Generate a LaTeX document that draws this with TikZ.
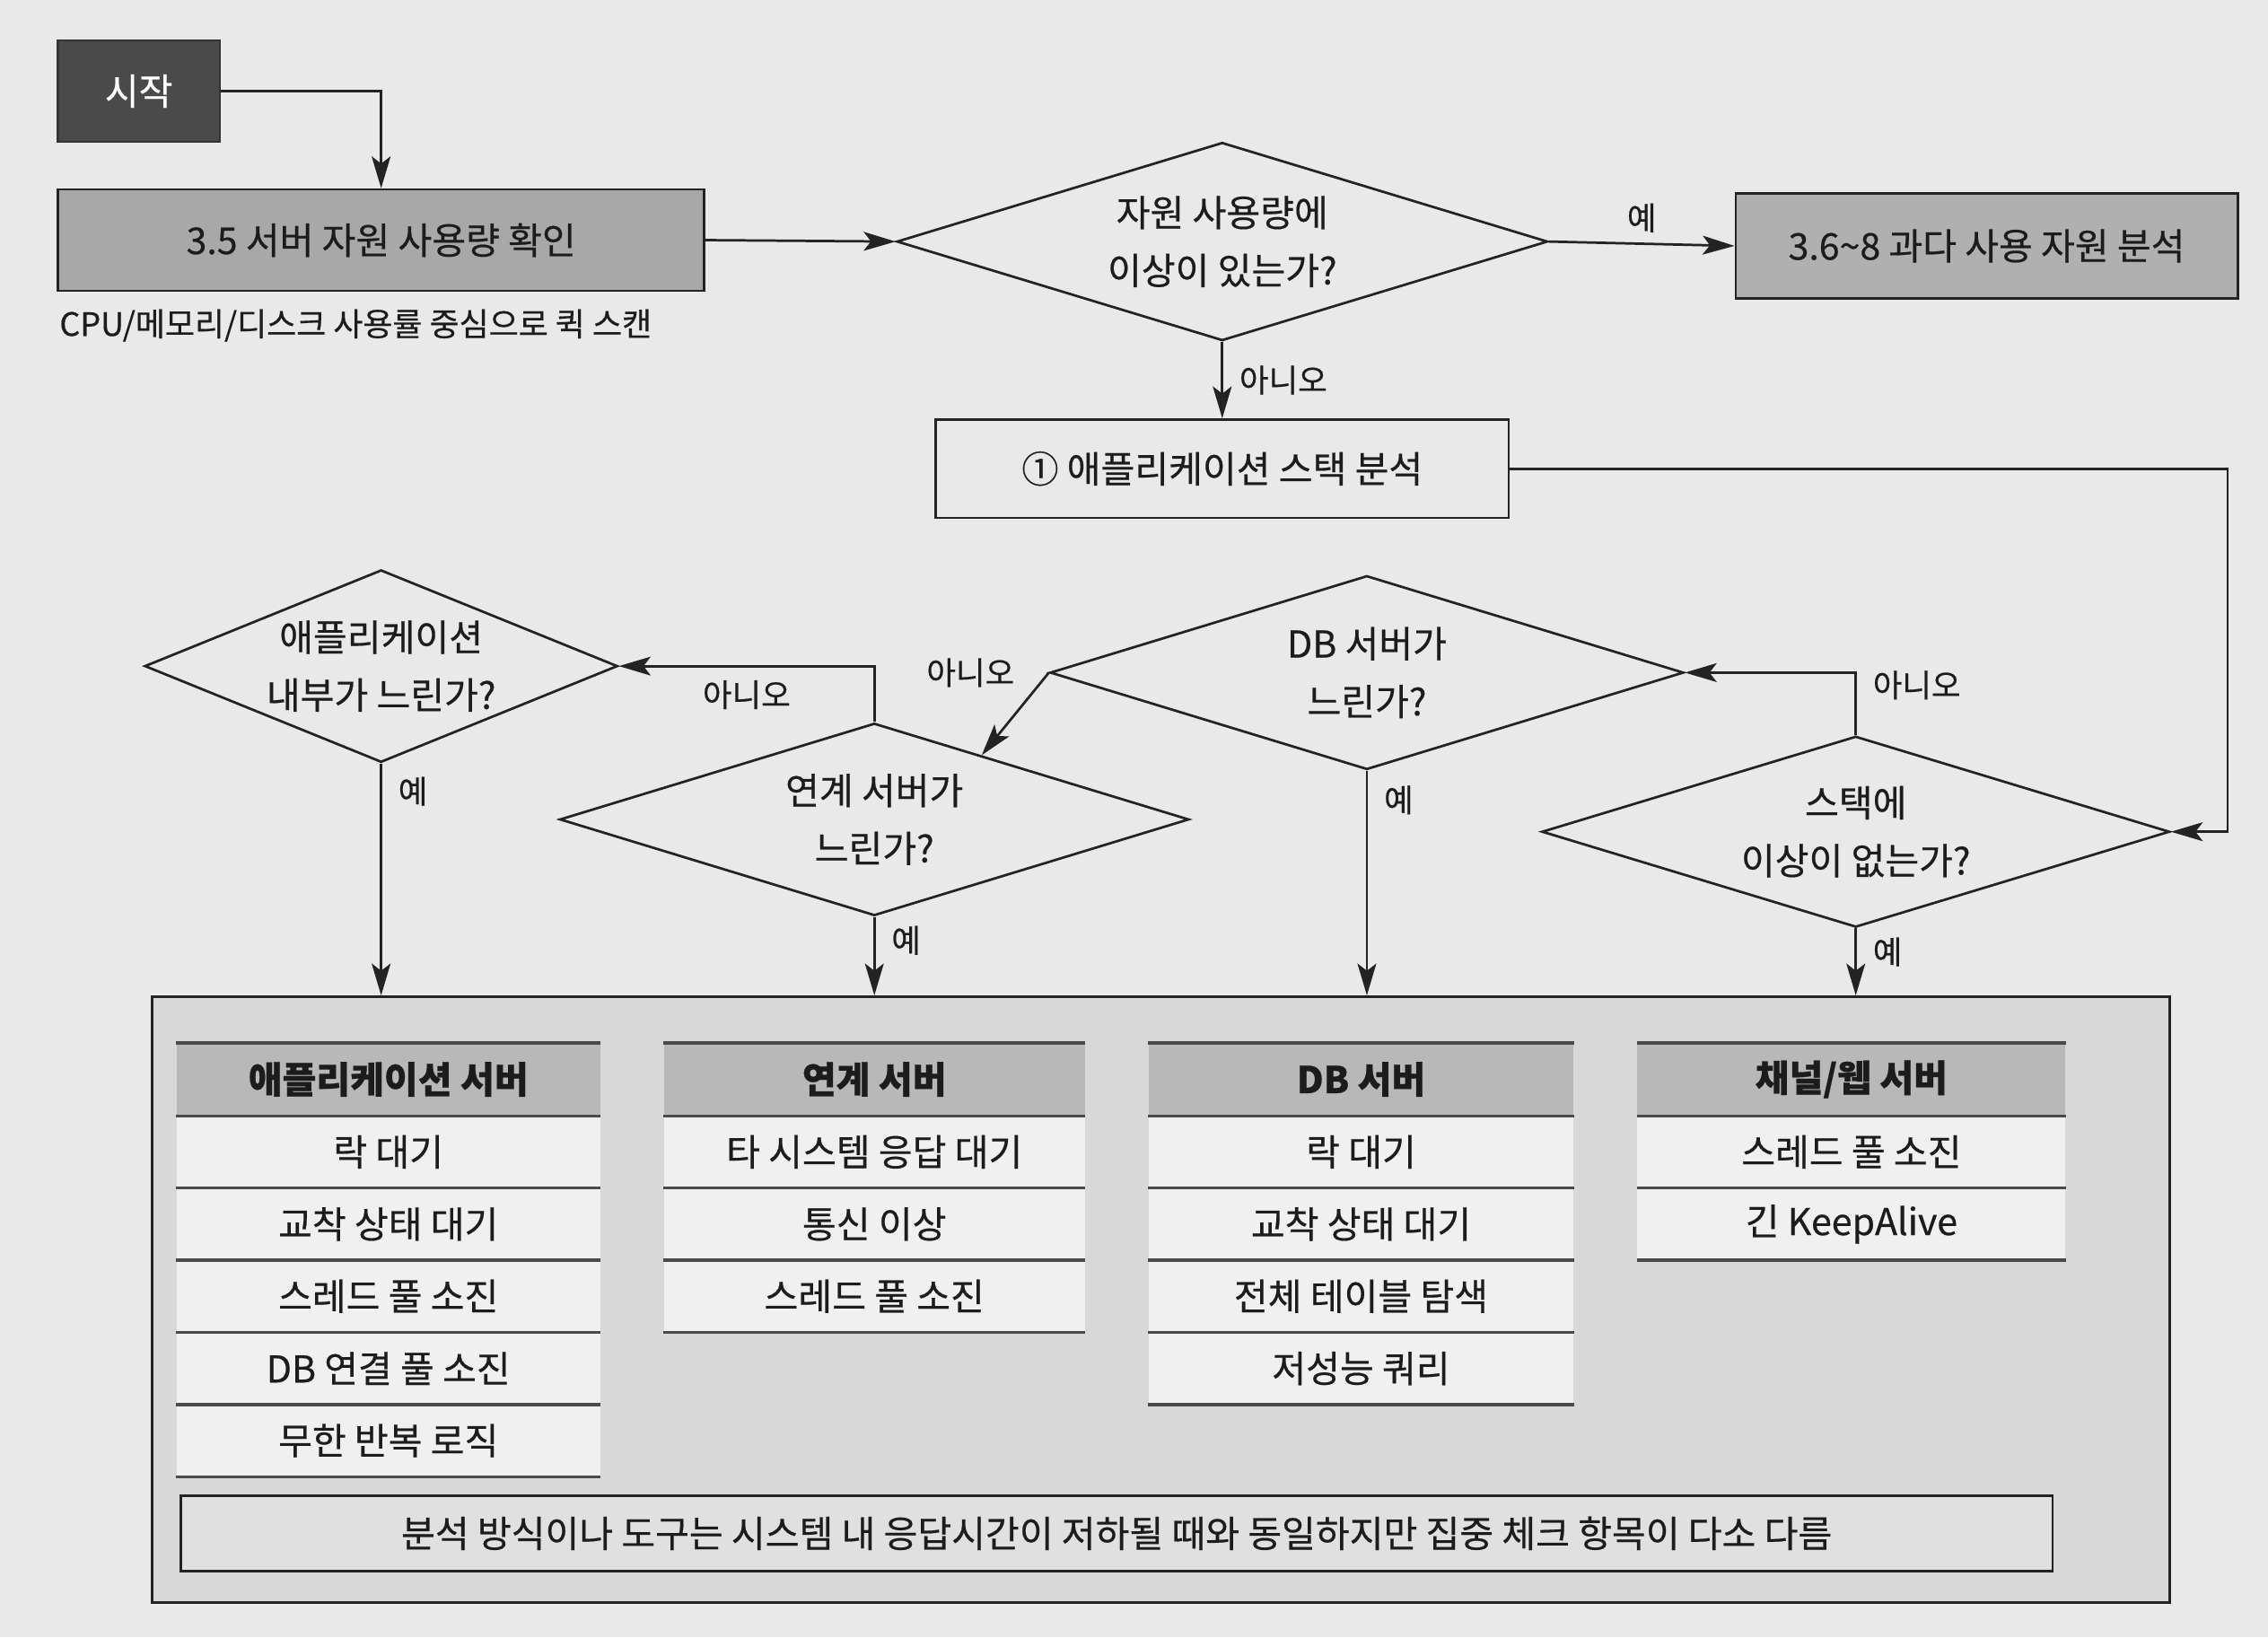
\documentclass[tikz,border=0pt]{standalone}
\usepackage{fontspec}
\setmainfont{Noto Sans CJK KR}[FakeBold=0.5]
\usetikzlibrary{shapes.geometric,arrows.meta,calc}
\definecolor{pagebg}{HTML}{E9E9E9}
\definecolor{boxfill}{HTML}{D8D8D8}
\definecolor{rowfill}{HTML}{F0F0F0}
\definecolor{hdrfill}{HTML}{B8B8B8}
\definecolor{procgray}{HTML}{A8A8A8}
\definecolor{resgray}{HTML}{B0B0B0}
\definecolor{notefill}{HTML}{E0E0E0}
\definecolor{startfill}{HTML}{4A4A4A}
\definecolor{linec}{HTML}{232323}
\definecolor{sepc}{HTML}{4A4A4A}
\definecolor{txt}{HTML}{1C1C1C}
\newcommand\fsmain{\fontsize{25.5pt}{30pt}\selectfont}
\newcommand\fsdia{\fontsize{25.5pt}{40pt}\selectfont}
\newcommand\fslbl{\fontsize{22pt}{26pt}\selectfont}
\newcommand\fscpu{\fontsize{22.3pt}{26pt}\selectfont}
\begin{document}
\begin{tikzpicture}[x=1pt,y=-1pt,
  every node/.style={text=txt},
  ln/.style={line width=1.7pt, draw=linec},
  arr/.style={ln, -{Stealth[length=22pt,width=13pt,inset=5pt]}},
  proc/.style={rectangle, draw=linec, line width=1.7pt, inner sep=0pt, font=\fsmain},
  dec/.style={diamond, draw=linec, line width=1.7pt, inner sep=0pt, align=center, font=\fsdia},
  lbl/.style={font=\fslbl, inner sep=3pt},
  cellbase/.style={rectangle, inner sep=0pt, anchor=north, font=\fsmain},
  hdr/.style={cellbase, fill=hdrfill, minimum height=50pt, font=\fsmain\bfseries},
  rowc/.style={cellbase, fill=rowfill, minimum height=49.5pt},
  sep/.style={line width=2pt, draw=sepc}
]
\useasboundingbox (0,0) rectangle (1568,1132);
\fill[pagebg] (0,0) rectangle (1568,1132);

% top part
\node[proc, fill=startfill, draw=startfill!70!black, minimum width=112pt, minimum height=70pt, text=white] (start) at (96,63) {시작};
\node[proc, fill=procgray, minimum width=447pt, minimum height=70pt] (check) at (263.5,166) {3.5 서버 자원 사용량 확인};
\node[font=\fscpu, anchor=west, inner sep=0pt] (cpu) at (41,225) {CPU/메모리/디스크 사용률 중심으로 퀵 스캔};
\node[dec, aspect=3.28, minimum width=450pt, minimum height=137pt] (d1) at (845,167) {자원 사용량에\\이상이 있는가?};
\node[proc, fill=resgray, minimum width=347pt, minimum height=73pt] (res) at (1373.5,170) {3.6\textasciitilde 8 과다 사용 자원 분석};
\node[proc, fill=pagebg, minimum width=396pt, minimum height=68pt] (stack) at (845,324) {① 애플리케이션 스택 분석};

% decisions
\node[dec, aspect=3.29, minimum width=434pt, minimum height=132pt] (dstack) at (1283,575) {스택에\\이상이 없는가?};
\node[dec, aspect=3.27, minimum width=438pt, minimum height=134pt] (ddb) at (945,465) {DB 서버가\\느린가?};
\node[dec, aspect=3.27, minimum width=435pt, minimum height=133pt] (dlink) at (604.5,566.5) {연계 서버가\\느린가?};
\node[dec, aspect=2.46, minimum width=327pt, minimum height=133pt] (dapp) at (263.5,460.5) {애플리케이션\\내부가 느린가?};

% big box
\node[rectangle, draw=linec, line width=1.7pt, fill=boxfill, minimum width=1395pt, minimum height=419pt, inner sep=0pt] (main) at (802.5,898.5) {};

% tables
\node[hdr, minimum width=293pt] (a0) at (268.5,721) {애플리케이션 서버};
\node[rowc, minimum width=293pt] (a1) at (a0.south) {락 대기};
\node[rowc, minimum width=293pt] (a2) at (a1.south) {교착 상태 대기};
\node[rowc, minimum width=293pt] (a3) at (a2.south) {스레드 풀 소진};
\node[rowc, minimum width=293pt] (a4) at (a3.south) {DB 연결 풀 소진};
\node[rowc, minimum width=293pt] (a5) at (a4.south) {무한 반복 로직};

\node[hdr, minimum width=291pt] (b0) at (604.5,721) {연계 서버};
\node[rowc, minimum width=291pt] (b1) at (b0.south) {타 시스템 응답 대기};
\node[rowc, minimum width=291pt] (b2) at (b1.south) {통신 이상};
\node[rowc, minimum width=291pt] (b3) at (b2.south) {스레드 풀 소진};

\node[hdr, minimum width=294pt] (c0) at (941,721) {DB 서버};
\node[rowc, minimum width=294pt] (c1) at (c0.south) {락 대기};
\node[rowc, minimum width=294pt] (c2) at (c1.south) {교착 상태 대기};
\node[rowc, minimum width=294pt] (c3) at (c2.south) {전체 테이블 탐색};
\node[rowc, minimum width=294pt] (c4) at (c3.south) {저성능 쿼리};

\node[hdr, minimum width=296pt] (e0) at (1280,721) {채널/웹 서버};
\node[rowc, minimum width=296pt] (e1) at (e0.south) {스레드 풀 소진};
\node[rowc, minimum width=296pt] (e2) at (e1.south) {긴 KeepAlive};

\foreach \n in {a0,b0,c0,e0} \draw[sep] (\n.north west) -- (\n.north east);
\foreach \n in {a0,a1,a2,a3,a4,a5,b0,b1,b2,b3,c0,c1,c2,c3,c4,e0,e1,e2}
  \draw[sep] (\n.south west) -- (\n.south east);

\node[proc, fill=notefill, minimum width=1294pt, minimum height=52pt] (note) at (772,1060) {분석 방식이나 도구는 시스템 내 응답시간이 저하될 때와 동일하지만 집중 체크 항목이 다소 다름};

% connectors
\draw[arr] (start.east) -| (check.north);
\draw[arr] (check.east) -- (d1.west);
\draw[arr] (d1.east) -- node[lbl, above=4pt] (l1) {예} (res.west);
\draw[arr] (d1.south) -- node[lbl, right=8pt] (l2) {아니오} (stack.north);
\coordinate (rt) at (1540,324);
\draw[arr] (stack.east) -- (rt) |- (dstack.east);
\draw[arr] (dstack.south) -- node[lbl, right=8pt, pos=0.35] (l3) {예} (dstack.south |- main.north);
\draw[arr] (dstack.north) |- node[lbl, right=8pt, pos=0.4] (l4) {아니오} (ddb.east);
\draw[arr] (ddb.south) -- node[lbl, right=8pt, pos=0.13] (l5) {예} (ddb.south |- main.north);
\draw[arr] (ddb.west) -- node[lbl, pos=0, anchor=east, xshift=-20pt] (l6) {아니오} ($(dlink.north)!0.34!(dlink.east)$);
\draw[arr] (dlink.north) |- node[lbl, below=6pt, pos=0.75] (l7) {아니오} (dapp.east);
\draw[arr] (dlink.south) -- node[lbl, right=8pt, pos=0.3] (l8) {예} (dlink.south |- main.north);
\draw[arr] (dapp.south) -- node[lbl, right=8pt, pos=0.12] (l9) {예} (dapp.south |- main.north);
\end{tikzpicture}
\end{document}
